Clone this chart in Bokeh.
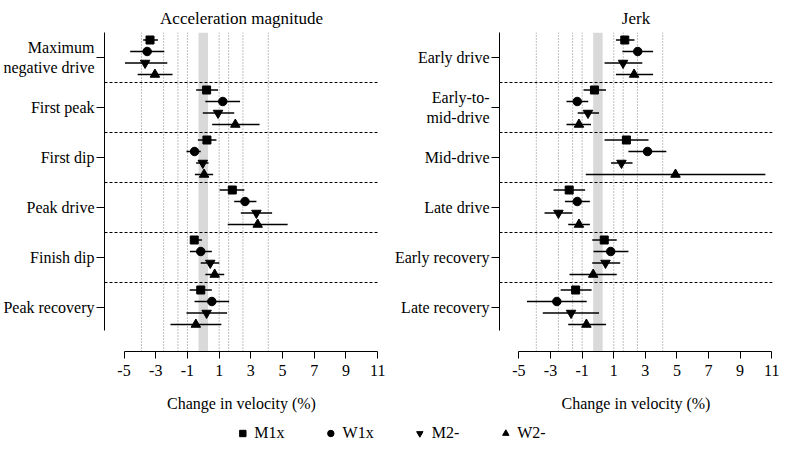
from bokeh.plotting import figure
from bokeh.models import Range1d, FixedTicker, Span, BoxAnnotation, Legend, LegendItem, LinearAxis
from bokeh.layouts import column, row
from bokeh.embed import file_html
from bokeh.resources import INLINE

# ---------------- data ----------------
series = ["M1x", "W1x", "M2-", "W2-"]

acc_phases = ["Maximum\nnegative drive", "First peak", "First dip",
              "Peak drive", "Finish dip", "Peak recovery"]
jerk_phases = ["Early drive", "Early-to-\nmid-drive", "Mid-drive",
               "Late drive", "Early recovery", "Late recovery"]

x_ticks = [-5, -3, -1, 1, 3, 5, 7, 9, 11]
x_tick_labels = ["-5", "-3", "-1", "1", "3", "5", "7", "9", "11"]
thresholds = [-3.9, -2.5, -1.6, -1.0, 1.0, 1.6, 2.5, 4.1]
trivial_band = [-0.3, 0.3]

# Acceleration magnitude
acc_m1x = [-3.36, 0.21, 0.23, 1.83, -0.57, -0.16]
acc_m1x_lo = [-3.79, -0.45, -0.34, 1.03, -0.80, -0.86]
acc_m1x_hi = [-2.86, 0.93, 0.83, 2.59, -0.08, 0.54]
acc_w1x = [-3.54, 1.23, -0.55, 2.63, -0.16, 0.54]
acc_w1x_lo = [-4.61, 0.13, -1.06, 1.95, -0.84, -0.55]
acc_w1x_hi = [-2.46, 2.32, -0.16, 3.35, 0.54, 1.63]
acc_m2 = [-3.67, 0.93, -0.03, 3.35, 0.44, 0.21]
acc_m2_lo = [-4.94, -0.03, -0.45, 2.37, -0.16, -1.06]
acc_m2_hi = [-2.27, 1.95, 0.33, 4.34, 1.01, 1.50]
acc_w2 = [-3.05, 2.02, 0.05, 3.43, 0.72, -0.47]
acc_w2_lo = [-4.14, 0.56, -0.53, 1.54, 0.13, -2.07]
acc_w2_hi = [-1.94, 3.55, 0.62, 5.32, 1.32, 1.14]

# Jerk
jerk_m1x = [1.70, -0.22, 1.80, -1.82, 0.40, -1.41]
jerk_m1x_lo = [1.14, -0.91, 0.42, -2.81, -0.36, -2.36]
jerk_m1x_hi = [2.31, 0.51, 3.20, -0.81, 1.19, -0.40]
jerk_w1x = [2.52, -1.31, 3.14, -1.31, 0.81, -2.60]
jerk_w1x_lo = [1.55, -1.99, 1.93, -2.09, -0.28, -4.49]
jerk_w1x_hi = [3.49, -0.61, 4.33, -0.51, 1.93, -0.71]
jerk_m2 = [1.59, -0.63, 1.49, -2.50, 0.48, -1.70]
jerk_m2_lo = [0.42, -1.28, 0.83, -3.38, -0.36, -3.49]
jerk_m2_hi = [2.81, 0.07, 2.19, -1.62, 1.41, 0.07]
jerk_w2 = [2.29, -1.20, 4.91, -1.20, -0.30, -0.73]
jerk_w2_lo = [1.14, -1.99, -0.77, -1.88, -1.80, -1.88]
jerk_w2_hi = [3.49, -0.44, 10.6, -0.51, 1.19, 0.51]

# ---------------- style ----------------
FONT = "Liberation Serif"
markers = ["square", "circle", "inverted_triangle", "triangle"]
msizes = [8, 8.5, 9.5, 9.5]
offsets = [0.35, 0.12, -0.11, -0.34]   # vertical offset of each series inside a phase band


def make_panel(title, phases, data, border_left, border_right, width):
    n = len(phases)
    centers = [n - 1 - i for i in range(n)]          # top phase highest
    p = figure(width=width, height=420, output_backend="svg", toolbar_location=None,
               x_range=Range1d(-6.23, 11.05), y_range=Range1d(-0.88, n - 0.5),
               min_border_left=border_left, min_border_right=border_right,
               min_border_top=32, min_border_bottom=69,
               x_axis_location=None, y_axis_location=None)
    p.outline_line_color = None
    p.xgrid.visible = False
    p.ygrid.visible = False
    p.background_fill_color = "white"
    p.border_fill_color = "white"

    p.title.text = title
    p.title.align = "center"
    p.title.text_font = FONT
    p.title.text_font_size = "17px"
    p.title.text_font_style = "normal"
    p.title.text_color = "black"
    p.title.standoff = 9

    # band of trivial change and threshold lines
    p.add_layout(BoxAnnotation(left=trivial_band[0], right=trivial_band[1],
                               fill_color="#d9d9d9", fill_alpha=1.0,
                               line_color=None, level="underlay"))
    for t in thresholds:
        p.add_layout(Span(location=t, dimension="height", line_color="#808080",
                          line_width=1, line_dash="1 2", level="underlay"))
    for k in range(n - 1):
        p.add_layout(Span(location=k + 0.5, dimension="width", line_color="black",
                          line_width=1, line_dash="3 2", level="underlay"))

    for j, (mean, lo, hi) in enumerate(data):
        ys = [c + offsets[j] for c in centers]
        p.segment(x0=lo, y0=ys, x1=hi, y1=ys, line_color="black", line_width=1.3)
        p.scatter(x=mean, y=ys, marker=markers[j], size=msizes[j],
                  fill_color="black", line_color="black")

    # axes
    xa = LinearAxis(ticker=FixedTicker(ticks=x_ticks), bounds=(x_ticks[0], x_ticks[-1]),
                    axis_label="Change in velocity (%)")
    xa.major_label_overrides = {t: lab for t, lab in zip(x_ticks, x_tick_labels)}
    xa.major_tick_in = 0
    xa.major_tick_out = 7
    xa.minor_tick_line_color = None
    xa.axis_line_color = "black"
    xa.major_tick_line_color = "black"
    xa.major_label_text_font = FONT
    xa.major_label_text_font_size = "16px"
    xa.major_label_text_color = "black"
    xa.major_label_standoff = 6
    xa.axis_label_text_font = FONT
    xa.axis_label_text_font_size = "16px"
    xa.axis_label_text_font_style = "normal"
    xa.axis_label_text_color = "black"
    xa.axis_label_standoff = 16
    p.add_layout(xa, "below")

    ya = LinearAxis(ticker=FixedTicker(ticks=centers), bounds=(-0.46, n - 0.5))
    ya.major_label_overrides = {c: lab for c, lab in zip(centers, phases)}
    ya.major_tick_in = 0
    ya.major_tick_out = 8
    ya.minor_tick_line_color = None
    ya.axis_line_color = "black"
    ya.major_tick_line_color = "black"
    ya.major_label_text_font = FONT
    ya.major_label_text_font_size = "16px"
    ya.major_label_text_color = "black"
    ya.major_label_standoff = 2
    p.add_layout(ya, "left")
    return p


acc_data = [(acc_m1x, acc_m1x_lo, acc_m1x_hi), (acc_w1x, acc_w1x_lo, acc_w1x_hi),
            (acc_m2, acc_m2_lo, acc_m2_hi), (acc_w2, acc_w2_lo, acc_w2_hi)]
jerk_data = [(jerk_m1x, jerk_m1x_lo, jerk_m1x_hi), (jerk_w1x, jerk_w1x_lo, jerk_w1x_hi),
             (jerk_m2, jerk_m2_lo, jerk_m2_hi), (jerk_w2, jerk_w2_lo, jerk_w2_hi)]

p1 = make_panel("Acceleration magnitude", acc_phases, acc_data, 102, 13, 391)
p2 = make_panel("Jerk", jerk_phases, jerk_data, 105, 8, 389)

# legend strip (legend-only renderers: no visible points)
pl = figure(width=780, height=25, output_backend="svg", toolbar_location=None,
            x_range=Range1d(0, 1), y_range=Range1d(0, 1),
            x_axis_location=None, y_axis_location=None,
            min_border=0)
pl.outline_line_color = None
pl.xgrid.visible = False
pl.ygrid.visible = False
nan = float("nan")
items = []
for j, name in enumerate(series):
    r = pl.scatter(x=[nan], y=[nan], marker=markers[j], size=msizes[j],
                   fill_color="black", line_color="black")
    items.append(LegendItem(label=name, renderers=[r]))
leg = Legend(items=items, orientation="horizontal", location="center",
             glyph_width=16, glyph_height=16, label_standoff=4, spacing=38,
             padding=0, margin=0, border_line_color=None, background_fill_alpha=0,
             label_text_font=FONT, label_text_font_size="16px", label_text_color="black")
pl.add_layout(leg, "center")

layout = column(row(p1, p2), pl)
open("out.html", "w").write(file_html(layout, INLINE))
